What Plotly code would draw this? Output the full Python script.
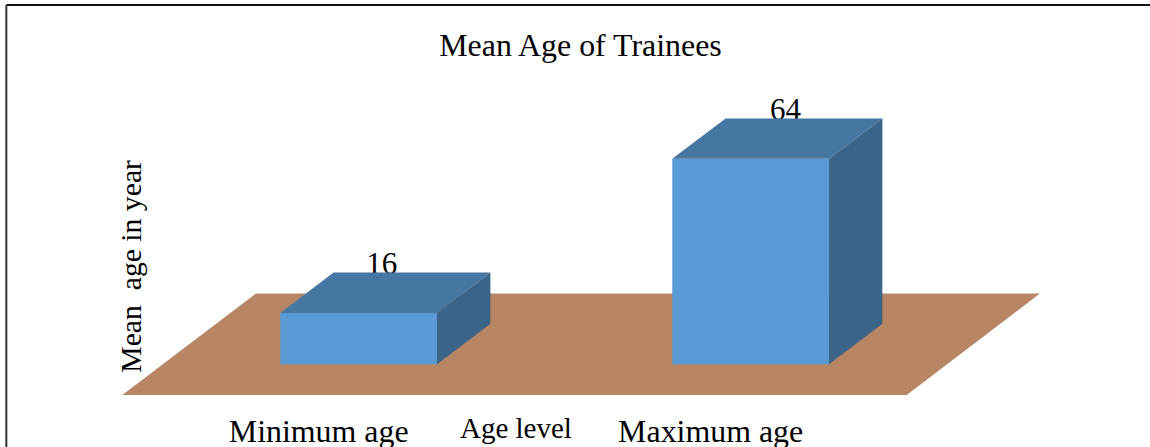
import plotly.graph_objects as go

# data
categories = ["Minimum age", "Maximum age"]
positions = [0, 1]
values = [16, 64]

# look of the fake 3d bars
bar_width = 0.4
depth_x = 0.136
depth_y = 12.6
label_shift = -0.102
value_label_dx = [0.059, 0.089]
floor_front = -9.57
floor_back = 22.05
floor_x_front = [-0.603, 1.398]
floor_x_back = [-0.262, 1.738]

serif = "Liberation Serif"

fig = go.Figure()

# front faces
fig.add_trace(go.Bar(
    x=positions, y=values, width=bar_width,
    marker=dict(color="#5B9BD5", line=dict(width=0)),
    showlegend=False, hoverinfo="skip",
))

# value labels sit behind the top faces, like in the original
fig.add_trace(go.Scatter(
    x=[p + dx for p, dx in zip(positions, value_label_dx)],
    y=[v + depth_y - 2.9 for v in values],
    mode="text",
    text=[str(v) for v in values],
    textposition="top center",
    textfont=dict(family=serif, size=31, color="black"),
    showlegend=False, hoverinfo="skip",
))

for p, v in zip(positions, values):
    left = p - bar_width / 2
    right = p + bar_width / 2
    # top face
    fig.add_trace(go.Scatter(
        x=[left, right, right + depth_x, left + depth_x, left],
        y=[v, v, v + depth_y, v + depth_y, v],
        mode="lines", fill="toself", fillcolor="#4676A2",
        line=dict(width=0), showlegend=False, hoverinfo="skip",
    ))
    # side face
    fig.add_trace(go.Scatter(
        x=[right, right + depth_x, right + depth_x, right, right],
        y=[0, depth_y, v + depth_y, v, 0],
        mode="lines", fill="toself", fillcolor="#3A6488",
        line=dict(width=0), showlegend=False, hoverinfo="skip",
    ))

# floor
floor_path = (
    f"M {floor_x_front[0]} {floor_front} L {floor_x_front[1]} {floor_front} "
    f"L {floor_x_back[1]} {floor_back} L {floor_x_back[0]} {floor_back} Z"
)
fig.add_shape(type="path", path=floor_path, xref="x", yref="y", layer="below",
              fillcolor="#B88565", line=dict(width=0))

# frame, only top and left are visible
fig.add_shape(type="line", xref="paper", yref="paper", x0=0.0055, x1=1, y0=0.9873, y1=0.9873,
              line=dict(color="#111111", width=2))
fig.add_shape(type="line", xref="paper", yref="paper", x0=0.0055, x1=0.0055, y0=-0.14, y1=0.9873,
              line=dict(color="#333333", width=2))

fig.add_annotation(text="Age level", xref="paper", yref="paper", x=515.5 / 1150, y=-0.128,
                   showarrow=False, font=dict(family=serif, size=29, color="black"))
fig.add_annotation(text="Mean\u00a0 age in year", xref="paper", yref="paper", x=131 / 1150, y=0.3248,
                   xanchor="center", yanchor="middle",
                   textangle=-90, showarrow=False, font=dict(family=serif, size=29.7, color="black"))

fig.update_layout(
    width=1150, height=447,
    margin=dict(l=0, r=0, t=0, b=52.3),
    paper_bgcolor="white", plot_bgcolor="white",
    title=dict(text="Mean Age of Trainees", x=580.5 / 1150, xanchor="center",
               y=1 - 45 / 447, yanchor="middle", font=dict(family=serif, size=31.9, color="black")),
    xaxis=dict(range=[-0.915, 2.0188], tickvals=[p + label_shift for p in positions], ticktext=categories,
               showgrid=False, zeroline=False, showline=False, ticks="", ticklabelstandoff=14,
               automargin=False, tickfont=dict(family=serif, size=31.9, color="black")),
    yaxis=dict(range=[floor_front, 113.5], showgrid=False, zeroline=False, showline=False,
               showticklabels=False, ticks="", automargin=False),
)

# page margin would push the figure off by 8px
fig.write_html("out.html", config=dict(displayModeBar=False),
               post_script="document.body.style.margin = '0';")
